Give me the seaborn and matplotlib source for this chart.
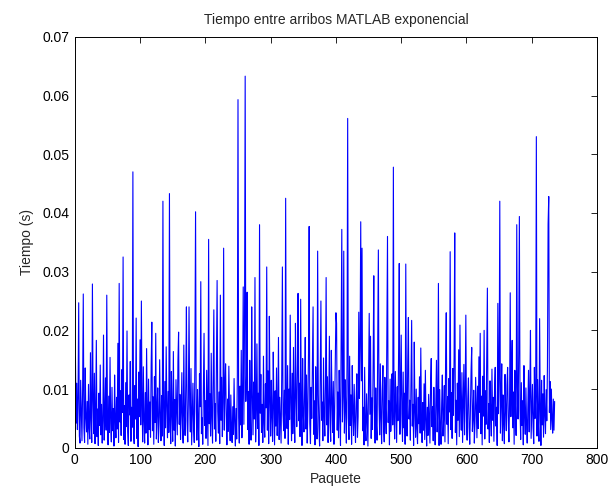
import numpy as np
import pandas as pd
import matplotlib
matplotlib.use("Agg")
import matplotlib.pyplot as plt
import seaborn as sns

# Tiempo entre arribos (ms), paquetes 1..735
tiempo_ms = [
    15.5, 4.2, 11.0, 3.1, 8.4, 24.7, 2.0, 0.8, 11.5, 6.3, 1.2, 9.8, 26.2, 3.4, 0.9, 13.6, 5.1, 2.7, 7.9, 0.6,
    10.8, 3.3, 1.5, 16.2, 4.7, 0.9, 27.9, 8.1, 2.4, 12.7, 0.7, 5.9, 18.3, 1.9, 6.6, 0.4, 9.3, 3.8, 14.1, 2.2,
    7.4, 0.8, 4.6, 19.2, 1.3, 5.5, 11.9, 3.0, 26.0, 6.2, 0.5, 8.8, 2.6, 15.4, 4.1, 1.0, 10.3, 2.9, 6.7, 0.3,
    12.4, 5.0, 1.7, 8.6, 3.2, 17.8, 0.9, 28.0, 4.4, 9.7, 2.1, 13.3, 6.0, 32.5, 1.4, 7.2, 0.6, 11.1, 3.6, 19.9,
    2.8, 0.4, 9.0, 5.6, 14.7, 1.1, 6.9, 3.5, 47.0, 2.3, 0.7, 10.6, 4.9, 22.1, 1.6, 8.3, 0.2, 12.9, 5.3, 18.4,
    3.9, 25.0, 7.6, 1.0, 13.8, 4.5, 0.8, 9.4, 2.5, 16.9, 6.1, 0.5, 11.7, 3.1, 7.8, 1.8, 14.2, 21.4, 2.9, 8.7,
    0.6, 12.1, 4.3, 19.5, 1.5, 6.4, 10.2, 0.9, 3.7, 15.0, 5.2, 1.2, 8.9, 2.0, 42.0, 6.8, 0.4, 11.3, 3.4, 17.2,
    7.1, 1.7, 9.6, 2.6, 43.3, 4.8, 0.7, 13.0, 5.7, 1.1, 16.4, 3.0, 8.2, 0.3, 11.6, 6.5, 2.2, 14.8, 19.7, 4.0,
    9.1, 1.4, 6.0, 12.8, 3.3, 0.8, 17.5, 5.4, 2.1, 10.7, 24.0, 4.6, 1.0, 8.5, 24.0, 7.3, 2.7, 13.5, 0.5, 5.8,
    11.0, 3.6, 0.9, 15.8, 40.2, 6.3, 1.3, 9.9, 4.2, 0.2, 12.6, 7.0, 28.3, 2.4, 5.1, 0.6, 10.4, 19.5, 3.8, 8.0,
    1.6, 13.2, 6.6, 0.4, 35.5, 4.1, 9.2, 2.0, 16.1, 5.0, 0.8, 11.4, 23.5, 3.2, 7.5, 1.1, 14.4, 28.5, 6.2, 2.5,
    9.5, 0.7, 26.0, 4.7, 12.0, 1.9, 7.7, 34.0, 3.0, 10.1, 14.3, 5.5, 0.5, 8.3, 2.8, 13.9, 6.1, 1.2, 9.0, 3.5,
    0.9, 7.0, 2.3, 11.8, 4.4, 0.3, 6.7, 1.5, 12.3, 59.3, 5.2, 0.8, 10.5, 3.9, 16.6, 1.7, 8.4, 27.4, 4.0, 21.0,
    63.3, 7.9, 12.2, 26.5, 3.1, 9.6, 0.6, 14.9, 5.6, 1.3, 24.0, 8.8, 2.2, 11.2, 4.9, 29.0, 1.0, 6.5, 17.7, 3.3,
    9.3, 0.4, 38.0, 5.9, 12.5, 2.6, 7.4, 0.9, 15.6, 4.3, 1.8, 10.9, 6.8, 30.8, 3.0, 13.1, 0.7, 22.4, 8.1, 2.0,
    11.5, 5.3, 1.1, 16.3, 7.2, 0.5, 9.7, 3.7, 13.6, 2.1, 6.0, 18.8, 1.4, 8.6, 4.5, 0.8, 12.3, 30.8, 5.7, 2.9,
    9.8, 1.6, 42.5, 6.4, 3.3, 14.0, 0.6, 10.0, 4.8, 22.6, 7.6, 1.2, 12.7, 2.4, 17.1, 5.5, 0.9, 21.2, 8.9, 3.6,
    13.4, 26.3, 4.6, 11.0, 1.9, 25.3, 7.1, 0.4, 15.2, 5.8, 2.7, 9.4, 18.8, 3.2, 12.4, 0.8, 6.3, 16.0, 37.7, 4.1,
    0.7, 10.3, 5.0, 14.6, 24.0, 2.3, 8.0, 0.5, 13.8, 6.6, 1.5, 33.5, 9.1, 3.4, 0.3, 11.9, 25.0, 4.7, 7.8, 1.2,
    15.3, 5.4, 2.0, 10.6, 29.0, 3.9, 12.1, 0.9, 7.3, 19.0, 4.2, 1.1, 16.6, 8.2, 2.6, 11.3, 0.6, 6.0, 14.5, 23.0,
    21.2, 3.0, 9.5, 1.7, 13.2, 5.9, 0.4, 17.9, 37.2, 4.4, 8.7, 33.5, 2.5, 11.6, 6.8, 0.8, 14.1, 56.1, 5.1, 1.4,
    15.6, 3.8, 9.0, 0.6, 14.0, 6.2, 2.1, 10.8, 4.5, 0.9, 7.9, 12.6, 1.8, 5.3, 23.1, 8.4, 17.2, 38.5, 11.4, 34.0,
    2.9, 6.9, 0.5, 13.7, 3.6, 1.2, 9.2, 4.8, 0.3, 11.1, 22.9, 5.7, 19.0, 1.6, 8.5, 3.1, 14.3, 29.3, 6.4, 0.8,
    10.2, 4.0, 1.3, 16.8, 33.7, 7.5, 2.2, 14.3, 5.0, 0.7, 9.7, 14.0, 3.5, 1.0, 12.0, 6.1, 2.4, 18.5, 36.0, 4.3,
    8.0, 0.5, 11.7, 2.8, 6.6, 12.6, 3.9, 47.8, 5.4, 1.5, 13.0, 7.1, 0.9, 10.4, 4.6, 16.2, 31.4, 2.3, 8.9, 19.2,
    5.8, 1.1, 12.9, 3.4, 9.3, 0.6, 31.3, 6.7, 2.0, 14.7, 22.2, 4.9, 8.1, 1.3, 11.5, 21.7, 3.7, 7.4, 0.4, 18.0,
    6.2, 1.8, 10.0, 3.3, 0.7, 8.6, 4.1, 12.1, 2.5, 17.0, 5.6, 0.9, 7.7, 3.0, 10.9, 1.4, 13.2, 4.8, 0.3, 6.9,
    2.1, 9.1, 5.0, 0.8, 11.2, 15.2, 3.6, 7.0, 1.2, 10.3, 4.4, 0.5, 8.3, 14.9, 2.7, 6.5, 28.0, 0.4, 9.9, 3.2,
    0.6, 7.6, 12.4, 2.0, 5.2, 10.6, 1.0, 14.6, 23.0, 4.0, 8.7, 0.7, 11.8, 6.1, 33.4, 3.1, 9.4, 1.6, 13.5, 5.5,
    15.4, 36.6, 2.6, 8.1, 0.5, 11.0, 4.7, 16.7, 1.9, 20.9, 6.8, 3.0, 12.8, 0.9, 7.3, 14.2, 2.2, 9.6, 22.6, 4.5,
    1.3, 8.4, 11.9, 3.5, 0.6, 6.3, 13.1, 17.1, 2.8, 5.1, 9.8, 0.8, 4.2, 12.0, 7.0, 1.7, 10.5, 3.3, 15.5, 6.0,
    19.5, 2.4, 8.8, 0.5, 12.2, 5.4, 20.0, 1.5, 9.7, 4.0, 14.8, 27.2, 3.2, 7.5, 0.9, 11.4, 6.0, 2.0, 13.4, 4.7,
    8.6, 1.1, 10.1, 13.7, 3.7, 6.9, 0.4, 24.6, 5.8, 11.8, 42.0, 2.5, 7.8, 14.3, 1.2, 9.0, 4.3, 0.7, 12.5, 6.4,
    2.9, 10.7, 13.7, 4.6, 1.0, 8.2, 26.4, 5.3, 12.9, 18.3, 3.4, 9.5, 0.6, 13.2, 7.1, 2.1, 38.0, 10.4, 4.9, 16.1,
    39.4, 6.6, 1.4, 11.1, 3.8, 8.0, 0.5, 14.0, 5.7, 2.3, 10.2, 4.1, 0.8, 7.4, 13.2, 2.7, 9.3, 20.0, 1.6, 6.2,
    10.8, 3.5, 0.7, 13.7, 5.0, 8.7, 53.0, 2.0, 11.6, 4.4, 1.1, 22.0, 6.5, 0.4, 11.5, 3.9, 9.2, 1.8, 12.3, 5.6,
    2.4, 9.9, 4.6, 13.9, 38.1, 42.8, 6.0, 11.3, 3.1, 10.0, 4.8, 2.5, 8.3, 3.0, 7.9,
]

xticks = [0, 100, 200, 300, 400, 500, 600, 700, 800]
yticks = [0, 0.01, 0.02, 0.03, 0.04, 0.05, 0.06, 0.07]
ytick_labels = ["0", "0.01", "0.02", "0.03", "0.04", "0.05", "0.06", "0.07"]

df = pd.DataFrame({
    "paquete": np.arange(1, len(tiempo_ms) + 1),
    "tiempo": np.array(tiempo_ms) / 1000.0,
})

sns.set_style("white")
plt.rcParams["font.family"] = ["Liberation Sans", "DejaVu Sans"]

fig = plt.figure(figsize=(6.13, 4.91), dpi=100)
ax = fig.add_axes([0.122, 0.088, 0.852, 0.837])

sns.lineplot(data=df, x="paquete", y="tiempo", color="blue", linewidth=0.8,
             errorbar=None, ax=ax)

ax.set_xlim(0, 800)
ax.set_ylim(0, 0.07)
ax.set_xticks(xticks)
ax.set_yticks(yticks)
ax.set_yticklabels(ytick_labels)
ax.tick_params(direction="in", top=True, right=True, length=4, width=0.6,
               labelsize=10, colors="black", pad=4)
for s in ax.spines.values():
    s.set_visible(True)
    s.set_color("black")
    s.set_linewidth(0.7)

ax.set_xlabel("Paquete", fontsize=10, labelpad=3)
ax.set_ylabel("Tiempo (s)", fontsize=10, labelpad=6)
ax.set_title("Tiempo entre arribos MATLAB exponencial", fontsize=10, pad=9)

fig.savefig("out.png", dpi=100, facecolor="white")
